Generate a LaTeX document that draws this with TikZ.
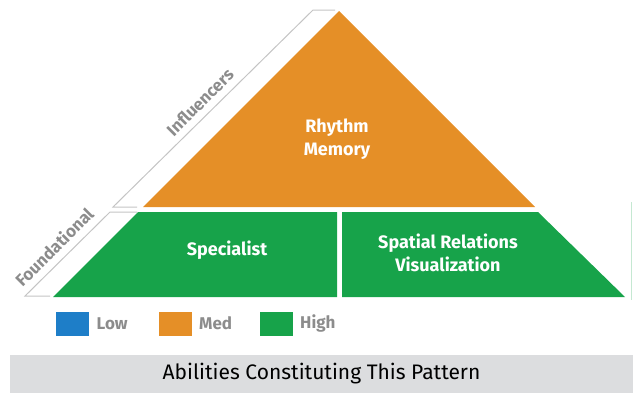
\documentclass[tikz,border=0pt]{standalone}
\usepackage{fontspec}
\setmainfont{Fira Sans}
\newfontfamily\tierfont{Fira Sans}
\definecolor{medorange}{HTML}{E58F27}
\definecolor{highgreen}{HTML}{17A34A}
\definecolor{lowblue}{HTML}{1E7EC8}
\definecolor{bargray}{HTML}{DCDDDF}
\definecolor{bracketgray}{HTML}{C4C4C4}
\definecolor{textgray}{HTML}{8C8C8C}
\begin{document}
\begin{tikzpicture}[x=1pt,y=-1pt,
        tier/.style={font=\tierfont\bfseries\fontsize{18}{23}\selectfont,
            text=white,align=center},
        side/.style={font=\tierfont\bfseries\fontsize{17}{18}\selectfont,
            text=textgray,rotate=45},
        key/.style={minimum width=33pt,minimum height=24pt,inner sep=0pt},
        keytext/.style={font=\tierfont\bfseries\fontsize{17}{18}\selectfont,
            text=textgray,anchor=west}]
    \useasboundingbox (0,0) rectangle (634,402);
    % pyramid
    \fill[medorange] (143,207) -- (339,11) -- (535,207) -- cycle;
    \fill[highgreen] (53,297) -- (138,212) -- (337,212) -- (337,297) -- cycle;
    \fill[highgreen] (342,297) -- (342,212) -- (538,212) -- (625,297) -- cycle;
    \draw[highgreen!25, line width=1pt] (631,202) -- (631,300);
    % side brackets
    \draw[bracketgray, line width=1pt] (137,207) -- (113,207) -- (313,10) -- (335,10);
    \draw[bracketgray, line width=1pt] (137,212) -- (110,212) -- (25,296) -- (50,296);
    \node[side] (influencers) at (200,102) {Influencers};
    \node[side] (foundational) at (54,247) {Foundational};
    % tiers
    \node[tier] (rhythm) at (337,139) {Rhythm\\Memory};
    \node[tier] (specialist) at (227,250) {Specialist};
    \node[tier] (spatial) at (448,253) {Spatial Relations\\Visualization};
    % legend
    \node[key,fill=lowblue] (low) at (72.5,323.5) {};
    \node[keytext] (lowtext) at ([xshift=4pt]low.east) {Low};
    \node[key,fill=medorange] (med) at (175,323.5) {};
    \node[keytext] (medtext) at ([xshift=4pt]med.east) {Med};
    \node[key,fill=highgreen] (high) at (276,323.5) {};
    \node[keytext] (hightext) at ([xshift=4pt]high.east) {High};
    % caption bar
    \node[fill=bargray, minimum width=623pt, minimum height=38pt,
        font=\fontsize{21}{23}\selectfont] (caption) at (321.5,374)
        {Abilities Constituting This Pattern};
\end{tikzpicture}
\end{document}
